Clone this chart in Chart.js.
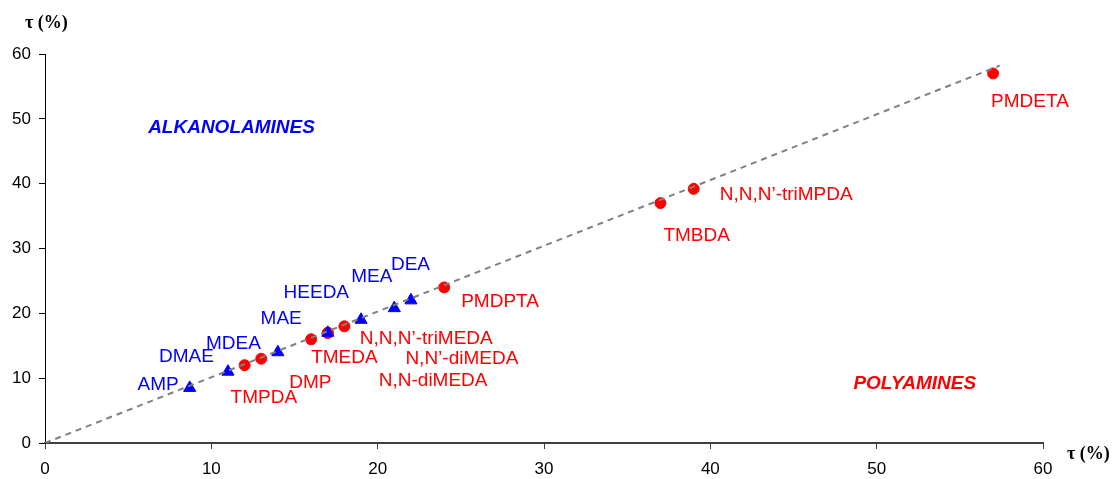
<!DOCTYPE html>
<html>
<head>
<meta charset="utf-8">
<script src="https://cdn.jsdelivr.net/npm/chart.js@4/dist/chart.umd.min.js"></script>
<style>
  body { margin: 0; background: #fff; }
  #wrap { width: 1113px; height: 479px; position: relative; }
</style>
</head>
<body>
<div id="wrap"><canvas id="chart"></canvas></div>
<script>
// alkanolamines (blue triangles)
const alkNames = ['AMP', 'DMAE', 'MDEA', 'MAE', 'HEEDA', 'MEA', 'DEA'];
const alkX = [8.7, 11, 14, 17, 19, 21, 22];
const alkY = [8.5, 11, 14, 17, 19, 20.8, 22];

// polyamines (red circles)
const polyNames = ['TMPDA', 'DMP', 'TMEDA', 'N,N,N’-triMEDA', 'N,N’-diMEDA', 'N,N-diMEDA', 'PMDPTA', 'TMBDA', 'N,N,N’-triMPDA', 'PMDETA'];
const polyX = [12, 13, 16, 17, 18, 17, 24, 37, 39, 57];
const polyY = [12, 13, 16, 17, 18, 17, 24, 37, 39.2, 57];

// dashed reference line
const fitX = [0, 57.4];
const fitY = [0, 58.2];

const xTicks = [0, 10, 20, 30, 40, 50, 60];
const yTicks = [0, 10, 20, 30, 40, 50, 60];

// label placement (px offset from the marker, text alignment)
const alkLabelPos = [[-11, -3, 'right'], [-14, -15, 'right'], [-17, -8, 'right'], [-26, -14, 'right'],
  [-12, -27, 'right'], [-2, -31, 'right'], [-20, -36, 'left']];
const polyLabelPos = [[-14, 33, 'left'], [28, 24, 'left'], [0, 18, 'left'], [32, 6, 'left'], [61, 32, 'left'],
  [51, 48, 'left'], [17, 14, 'left'], [3, 33, 'left'], [26, 6, 'left'], [-2, 28, 'left']];

const toPts = (xs, ys) => xs.map((x, i) => ({ x: x, y: ys[i] }));

const pointLabels = {
  id: 'pointLabels',
  afterDatasetsDraw(chart) {
    const ctx = chart.ctx;
    ctx.save();
    ctx.font = '19px "Liberation Sans", Arial, sans-serif';
    ctx.textBaseline = 'middle';
    chart.data.datasets.forEach((ds, di) => {
      if (!ds.names) return;
      const meta = chart.getDatasetMeta(di);
      ctx.fillStyle = ds.labelColor;
      ds.names.forEach((name, i) => {
        const p = meta.data[i];
        const o = ds.labelPos[i];
        ctx.textAlign = o[2];
        ctx.fillText(name, p.x + o[0], p.y + o[1]);
      });
    });

    const xs = chart.scales.x, ys = chart.scales.y;
    ctx.font = 'italic bold 19px "Liberation Sans", Arial, sans-serif';
    ctx.textAlign = 'left';
    ctx.fillStyle = '#0000ff';
    ctx.fillText('ALKANOLAMINES', xs.getPixelForValue(6.2), ys.getPixelForValue(48.6));
    ctx.fillStyle = '#ff0000';
    ctx.fillText('POLYAMINES', xs.getPixelForValue(48.6), ys.getPixelForValue(9.1));

    // axis titles
    ctx.fillStyle = '#000';
    ctx.font = 'bold 18px "Liberation Serif", "Times New Roman", serif';
    ctx.textAlign = 'left';
    ctx.fillText('τ (%)', 25, 23);
    ctx.fillText('τ (%)', 1067, 454);
    ctx.restore();
  }
};

new Chart(document.getElementById('chart'), {
  type: 'scatter',
  data: {
    datasets: [
      {
        type: 'line',
        data: toPts(fitX, fitY),
        borderColor: '#808080',
        borderWidth: 2,
        borderDash: [6, 5],
        pointRadius: 0,
        fill: false
      },
      {
        data: toPts(alkX, alkY),
        names: alkNames,
        labelPos: alkLabelPos,
        labelColor: '#0000ff',
        pointStyle: 'triangle',
        pointRadius: 7,
        backgroundColor: '#0000ff',
        borderColor: '#0000ff',
        borderWidth: 1
      },
      {
        data: toPts(polyX, polyY),
        names: polyNames,
        labelPos: polyLabelPos,
        labelColor: '#ff0000',
        pointStyle: 'circle',
        pointRadius: 5.5,
        backgroundColor: '#ff0000',
        borderColor: '#ff0000',
        borderWidth: 1
      }
    ]
  },
  options: {
    responsive: true,
    maintainAspectRatio: false,
    animation: false,
    layout: { padding: { top: 54, right: 70, left: 0, bottom: 0 } },
    plugins: { legend: { display: false }, tooltip: { enabled: false } },
    scales: {
      x: {
        type: 'linear',
        min: 0, max: 60,
        afterBuildTicks: s => { s.ticks = xTicks.map(v => ({ value: v })); },
        afterFit: s => { s.height = 36; },
        border: { color: '#404040', width: 2 },
        grid: { drawOnChartArea: false, drawTicks: true, tickLength: 6, color: '#404040' },
        ticks: { color: '#000', padding: 10, font: { family: '"Liberation Sans", Arial, sans-serif', size: 17 } }
      },
      y: {
        type: 'linear',
        min: 0, max: 60,
        afterBuildTicks: s => { s.ticks = yTicks.map(v => ({ value: v })); },
        afterFit: s => { s.width = 45; },
        border: { color: '#000', width: 1 },
        grid: { drawOnChartArea: false, drawTicks: true, tickLength: 6, color: '#000' },
        ticks: { color: '#000', padding: 8, font: { family: '"Liberation Sans", Arial, sans-serif', size: 17 } }
      }
    }
  },
  plugins: [pointLabels]
});
</script>
</body>
</html>
